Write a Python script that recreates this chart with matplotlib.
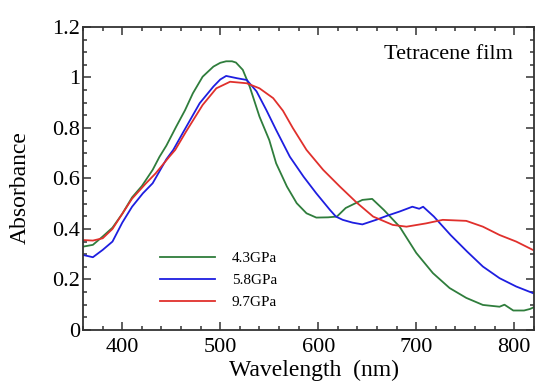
import numpy as np
import matplotlib
matplotlib.use('Agg')
import matplotlib.pyplot as plt
from matplotlib.ticker import MultipleLocator

# spectra (wavelength nm, absorbance)
wl_43 = [360, 370, 380, 390, 400, 410, 420, 431, 438, 445, 455, 464, 472, 482, 493, 500, 506, 512,
         516, 523, 530, 540, 550, 557, 568, 578, 588, 598, 610, 619, 628, 637, 645, 655, 667, 683,
         700, 717, 734, 751, 768, 785, 790, 799, 810, 816, 820]
abs_43 = [0.33, 0.337, 0.37, 0.405, 0.46, 0.525, 0.57, 0.634, 0.686, 0.73, 0.805, 0.87, 0.937, 1.003,
          1.043, 1.058, 1.064, 1.064, 1.059, 1.03, 0.964, 0.845, 0.752, 0.66, 0.568, 0.502, 0.462,
          0.445, 0.446, 0.449, 0.483, 0.50, 0.515, 0.519, 0.475, 0.409, 0.305, 0.225, 0.166, 0.127,
          0.099, 0.092, 0.10, 0.077, 0.077, 0.083, 0.09]

wl_58 = [360, 370, 380, 390, 400, 410, 421, 431, 445, 452, 462, 479, 493, 500, 506, 517, 527, 537,
         547, 557, 571, 585, 598, 612, 618, 625, 635, 645, 659, 670, 683, 696, 703, 707, 718, 735,
         752, 768, 785, 802, 819]
abs_58 = [0.297, 0.288, 0.317, 0.35, 0.425, 0.488, 0.541, 0.581, 0.676, 0.713, 0.782, 0.898, 0.964,
          0.992, 1.006, 0.997, 0.99, 0.945, 0.871, 0.792, 0.686, 0.607, 0.541, 0.475, 0.449, 0.436,
          0.425, 0.418, 0.436, 0.452, 0.469, 0.488, 0.48, 0.488, 0.449, 0.376, 0.31, 0.251, 0.205,
          0.172, 0.146]

wl_97 = [360, 370, 380, 390, 400, 410, 424, 434, 448, 454, 465, 482, 496, 510, 527, 540, 554, 564,
         574, 588, 605, 622, 639, 656, 676, 690, 710, 727, 751, 768, 785, 802, 819]
abs_97 = [0.356, 0.354, 0.363, 0.40, 0.46, 0.52, 0.58, 0.62, 0.686, 0.713, 0.785, 0.891, 0.957, 0.983,
          0.977, 0.957, 0.918, 0.868, 0.8, 0.713, 0.634, 0.568, 0.505, 0.449, 0.416, 0.409, 0.422,
          0.436, 0.432, 0.409, 0.376, 0.35, 0.317]

labels = ['4.3GPa', '5.8GPa', '9.7GPa']
colors = ['#2f7d3c', '#1e1ee0', '#e0302c']
yticks = [0, 0.2, 0.4, 0.6, 0.8, 1.0, 1.2]
ytick_labels = ['0', '0.2', '0.4', '0.6', '0.8', '1', '1.2']

plt.rcParams['font.family'] = ['Liberation Serif', 'DejaVu Serif']

fig = plt.figure(figsize=(5.36, 3.85), dpi=100)
ax = fig.add_axes([0.155, 0.143, 0.841, 0.787])

ax.plot(wl_43, abs_43, color=colors[0], lw=1.3, label=labels[0])
ax.plot(wl_58, abs_58, color=colors[1], lw=1.3, label=labels[1])
ax.plot(wl_97, abs_97, color=colors[2], lw=1.3, label=labels[2])

ax.set_xlim(360, 820)
ax.set_ylim(0, 1.2)
ax.set_xticks([400, 500, 600, 700, 800])
ax.xaxis.set_minor_locator(MultipleLocator(20))
ax.set_yticks(yticks)
ax.set_yticklabels(ytick_labels)
ax.yaxis.set_minor_locator(MultipleLocator(0.05))

ax.tick_params(which='both', direction='in', top=True, right=True, width=1.1, color='#333333')
ax.tick_params(which='major', length=6)
ax.tick_params(which='minor', length=3)
ax.tick_params(axis='x', labelsize=16, pad=6)
ax.tick_params(axis='y', labelsize=16, pad=2)
for s in ax.spines.values():
    s.set_linewidth(1.3)
    s.set_color('#333333')

ax.set_xlabel('Wavelength  (nm)', fontsize=17)
ax.xaxis.set_label_coords(0.512, -0.1)
ax.set_ylabel('Absorbance', fontsize=17)
ax.yaxis.set_label_coords(-0.117, 0.47)

ax.text(0.953, 0.908, 'Tetracene film', transform=ax.transAxes, ha='right', va='center', fontsize=16)

leg = ax.legend(loc='upper left', bbox_to_anchor=(0.171, 0.26), frameon=False, fontsize=11,
                handlelength=3.6, handletextpad=1.1, labelspacing=0.55, borderpad=0, borderaxespad=0)

fig.savefig('out.png', dpi=100)
